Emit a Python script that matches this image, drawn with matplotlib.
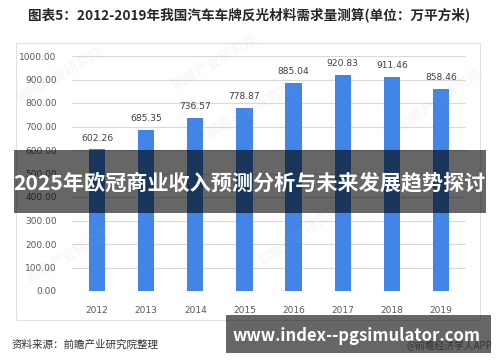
import matplotlib
matplotlib.use("Agg")
import matplotlib.pyplot as plt
from matplotlib.patches import Rectangle

plt.rcParams['font.family'] = ['Noto Sans CJK SC', 'DejaVu Sans']

years = ['2012', '2013', '2014', '2015', '2016', '2017', '2018', '2019']
values = [602.26, 685.35, 736.57, 778.87, 885.04, 920.83, 911.46, 858.46]
yticks = [0, 100, 200, 300, 400, 500, 600, 700, 800, 900, 1000]
title = '图表5：2012-2019年我国汽车车牌反光材料需求量测算(单位：万平方米)'
banner = '2025年欧冠商业收入预测分析与未来发展趋势探讨'
url = 'www.index--pgsimulator.com'
source = '资料来源：前瞻产业研究院整理'
app = '@前瞻经济学人APP'

W, H = 500, 362
fig = plt.figure(figsize=(W / 100, H / 100), dpi=100)
fig.patch.set_facecolor('white')

def fx(px):
    return px / W

def fy(py):
    return 1 - py / H

# chart frame
fig.patches.append(Rectangle((fx(16), fy(320)), fx(464), (320 - 43) / H,
                             transform=fig.transFigure, fill=False,
                             edgecolor='#e0e0e0', linewidth=0.8, zorder=0))

ax = fig.add_axes([fx(72), fy(291), fx(394), (291 - 56) / H])
ax.set_facecolor('none')
x = list(range(len(years)))
ax.bar(x, values, width=0.33, color='#4285E6', zorder=3)
ax.set_xlim(-0.51, len(years) - 0.49)
ax.set_ylim(0, 1000)
ax.set_yticks(yticks)
ax.set_yticklabels([f'{v:.2f}' for v in yticks], family='DejaVu Sans',
                   fontsize=6.5, color='#595959')
ax.set_xticks(x)
ax.set_xticklabels(years, family='DejaVu Sans', fontsize=6.5, color='#595959')
ax.tick_params(axis='both', length=0)
ax.tick_params(axis='y', pad=11)
ax.tick_params(axis='x', pad=11)
ax.grid(axis='y', color='#d9d9d9', linewidth=0.8, zorder=0)
for s in ax.spines.values():
    s.set_visible(False)
for xi, v in zip(x, values):
    ax.annotate(f'{v:.2f}', (xi, v), xytext=(0, 5), textcoords='offset points',
                ha='center', va='bottom', fontsize=6.6, color='#404040',
                family='DejaVu Sans')

# title
fig.text(fx(28), fy(15), title, ha='left', va='center', fontsize=9.8,
         fontweight='bold', color='#262626')

# faint watermarks
for (wx, wy, rot) in [(60, 75, 30), (215, 62, 30), (300, 235, 35), (440, 100, 35),
                      (250, 110, 30), (70, 255, 30)]:
    fig.text(fx(wx), fy(wy), '前瞻产业研究院', rotation=rot, ha='center', va='center',
             fontsize=10, color='#b0b0b0', alpha=0.1, fontweight='bold', zorder=1)

# source
fig.text(fx(12), fy(345), source, ha='left', va='center', fontsize=7.6, color='#333333')
fig.text(fx(492), fy(346), app, ha='right', va='center', fontsize=7, color='#808080')

# overlay banner
fig.patches.append(Rectangle((fx(14), fy(213)), fx(472), 63 / H,
                             transform=fig.transFigure, facecolor='black',
                             alpha=0.6, edgecolor='none', zorder=10))
fig.text(fx(249), fy(183), banner, ha='center', va='center', fontsize=15.2,
         fontweight='bold', color='white', zorder=11)

# url banner
fig.patches.append(Rectangle((fx(226), fy(353)), fx(265), 38 / H,
                             transform=fig.transFigure, facecolor='black',
                             alpha=0.6, edgecolor='none', zorder=10))
fig.text(fx(357), fy(336), url, ha='center', va='center', fontsize=12,
         fontweight='bold', color='white', zorder=11)

fig.savefig('out.png', dpi=100, facecolor='white')
